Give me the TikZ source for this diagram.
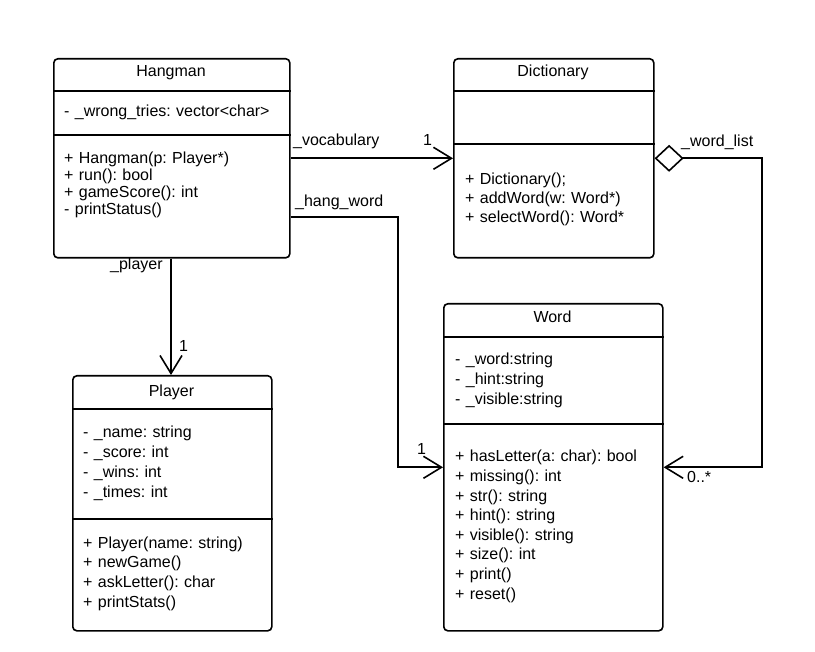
\documentclass[tikz,border=0pt]{standalone}
\usepackage{fontspec}
\setmainfont{Liberation Sans}
\usetikzlibrary{arrows.meta}
\frenchspacing
\begin{document}
\begin{tikzpicture}[x=1pt,y=-1pt,
  font=\fontsize{16pt}{19.6pt}\selectfont,
  umlbox/.style={draw, line width=1.6pt, rounded corners=4pt, inner sep=0pt, anchor=north west},
  divider/.style={line width=1.6pt},
  classname/.style={anchor=base, inner sep=0pt},
  members/.style={anchor=base west, inner sep=0pt, text width=#1, align=left},
  lbl/.style={anchor=base west, inner sep=0pt},
  assoc/.style={line width=1.6pt, -{Straight Barb[length=18pt,width=22pt]}},
  aggr/.style={line width=1.6pt, {Diamond[open,length=29pt,width=27pt]}-{Straight Barb[length=18pt,width=22pt]}}
]
\useasboundingbox (0,0) rectangle (815,652);

% Hangman
\node[umlbox, minimum width=236pt, minimum height=199pt] (hm) at (53,58) {};
\draw[divider] (hm.west |- 0,91) -- (hm.east |- 0,91);
\draw[divider] (hm.west |- 0,135) -- (hm.east |- 0,135);
\node[classname] (hm-title) at (171,77) {Hangman};
\node[members=220pt] (hm-attr) at (64,117) {- \_wrong\_tries: vector<char>};
\node[members=220pt, font=\fontsize{16pt}{17pt}\selectfont] (hm-ops) at (64,164)
  {+ Hangman(p: Player*)\\+ run(): bool\\+ gameScore(): int\\- printStatus()};

% Dictionary
\node[umlbox, minimum width=200pt, minimum height=199pt] (dict) at (453,58) {};
\draw[divider] (dict.west |- 0,91) -- (dict.east |- 0,91);
\draw[divider] (dict.west |- 0,144) -- (dict.east |- 0,144);
\node[classname] (dict-title) at (553,77) {Dictionary};
\node[members=185pt, font=\fontsize{16pt}{19pt}\selectfont] (dict-ops) at (465,185)
  {+ Dictionary();\\+ addWord(w: Word*)\\+ selectWord(): Word*};

% Word
\node[umlbox, minimum width=219pt, minimum height=327pt] (word) at (443,303) {};
\draw[divider] (word.west |- 0,337) -- (word.east |- 0,337);
\draw[divider] (word.west |- 0,424) -- (word.east |- 0,424);
\node[classname] (word-title) at (552.5,323) {Word};
\node[members=200pt] (word-attr) at (455,365)
  {- \_word:string\\- \_hint:string\\- \_visible:string};
\node[members=200pt] (word-ops) at (455,462)
  {+ hasLetter(a: char): bool\\+ missing(): int\\+ str(): string\\+ hint(): string\\+ visible(): string\\+ size(): int\\+ print()\\+ reset()};

% Player
\node[umlbox, minimum width=199pt, minimum height=255pt] (pl) at (72,375) {};
\draw[divider] (pl.west |- 0,409) -- (pl.east |- 0,409);
\draw[divider] (pl.west |- 0,519) -- (pl.east |- 0,519);
\node[classname] (pl-title) at (171.5,397) {Player};
\node[members=185pt, font=\fontsize{16pt}{19.7pt}\selectfont] (pl-attr) at (83,438)
  {- \_name: string\\- \_score: int\\- \_wins: int\\- \_times: int};
\node[members=185pt, font=\fontsize{16pt}{19.7pt}\selectfont] (pl-ops) at (83,548)
  {+ Player(name: string)\\+ newGame()\\+ askLetter(): char\\+ printStats()};

% Associations
\draw[assoc] (hm.east) -- (dict.west);
\node[lbl] (voc-role) at (293,146) {\_vocabulary};
\node[lbl] (voc-mult) at (423,146) {1};

\coordinate (hwbend) at (398,217);
\draw[assoc] (hm.east |- hwbend) -- (hwbend) |- (word.west);
\node[lbl] (hw-role) at (295,207) {\_hang\_word};
\node[lbl] (hw-mult) at (417,455) {1};

\coordinate (plx) at (171,0);
\draw[assoc] (hm.south -| plx) -- (pl.north -| plx);
\node[lbl] (pl-role) at (110,270) {\_player};
\node[lbl] (pl-mult) at (179,352) {1};

% Aggregation
\coordinate (wlbend) at (762,157);
\draw[aggr] (dict.east) -- (dict.east -| wlbend) |- (word.east);
\node[lbl] (wl-role) at (681,147) {\_word\_list};
\node[lbl] (wl-mult) at (687,483) {0..*};
\end{tikzpicture}
\end{document}
